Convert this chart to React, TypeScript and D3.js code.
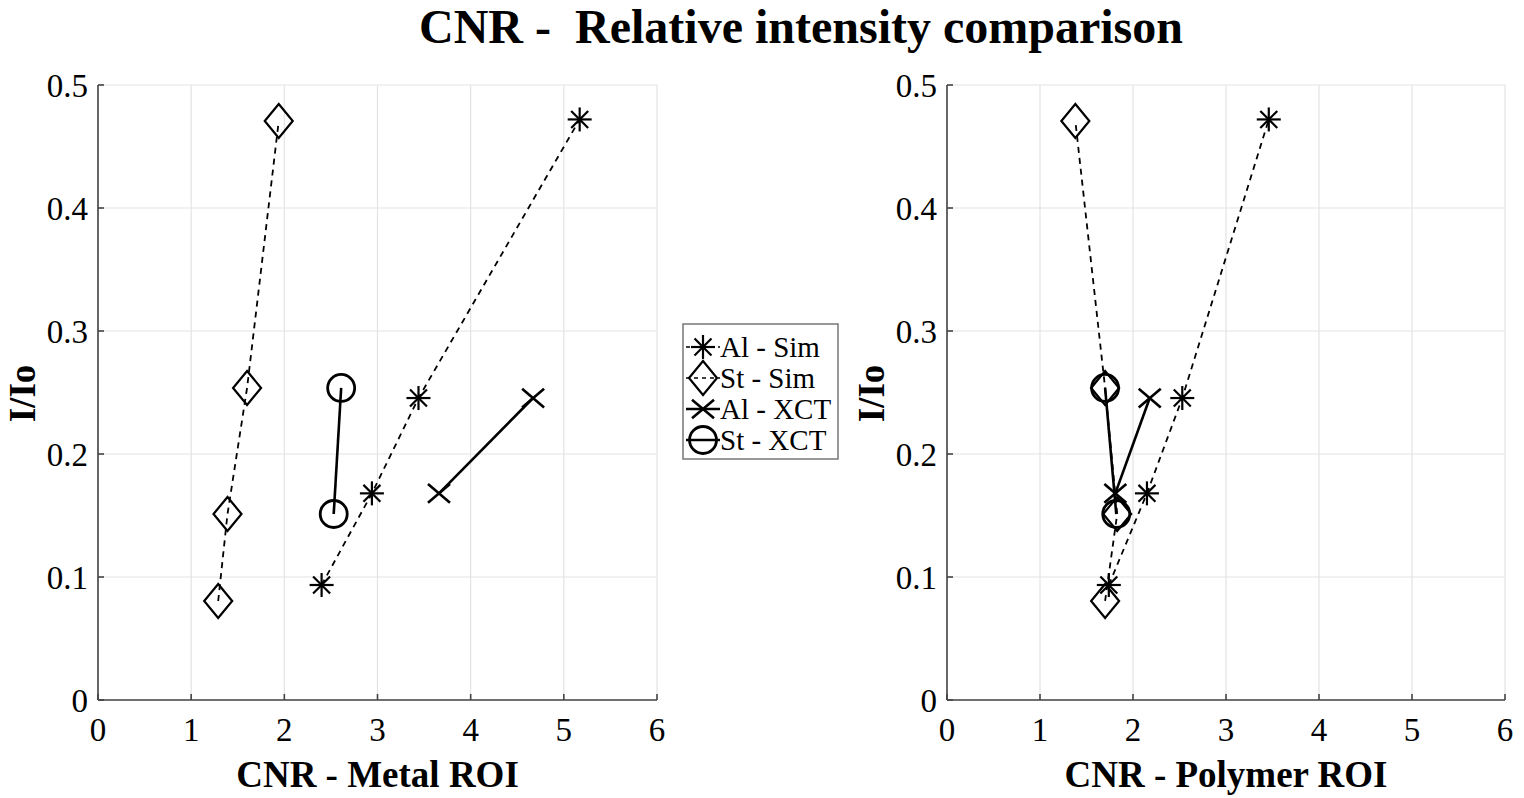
import * as d3 from "d3";

// x axis ticks and y axis ticks
const xTicks = [0, 1, 2, 3, 4, 5, 6];
const yTicks = [0, 0.1, 0.2, 0.3, 0.4, 0.5];

// I/Io for each series
const alSimY = [0.0935, 0.168, 0.2455, 0.472];
const stSimY = [0.0805, 0.1512, 0.2537, 0.4707];
const alXctY = [0.168, 0.2455];
const stXctY = [0.1512, 0.2537];

// CNR - Metal ROI
const metalAlSim = [2.4, 2.94, 3.44, 5.17];
const metalStSim = [1.29, 1.39, 1.6, 1.94];
const metalAlXct = [3.66, 4.67];
const metalStXct = [2.53, 2.61];

// CNR - Polymer ROI
const polyAlSim = [1.74, 2.15, 2.53, 3.46];
const polyStSim = [1.7, 1.83, 1.7, 1.38];
const polyAlXct = [1.81, 2.18];
const polyStXct = [1.82, 1.7];

type Marker = "asterisk" | "diamond" | "cross" | "circle";

const seriesDefs: { name: string; marker: Marker; dashed: boolean }[] = [
  { name: "Al - Sim", marker: "asterisk", dashed: true },
  { name: "St - Sim", marker: "diamond", dashed: true },
  { name: "Al - XCT", marker: "cross", dashed: false },
  { name: "St - XCT", marker: "circle", dashed: false },
];

const FONT = "'Liberation Serif', 'Times New Roman', serif";

function MarkerShape({ type, x, y }: { type: Marker; x: number; y: number }) {
  const s = { stroke: "#000", fill: "none", strokeWidth: 2.2 };
  if (type === "asterisk") {
    const r = 12;
    const d = r * Math.SQRT1_2;
    return (
      <g {...s}>
        <line x1={x - r} y1={y} x2={x + r} y2={y} />
        <line x1={x} y1={y - r} x2={x} y2={y + r} />
        <line x1={x - d} y1={y - d} x2={x + d} y2={y + d} />
        <line x1={x - d} y1={y + d} x2={x + d} y2={y - d} />
      </g>
    );
  }
  if (type === "diamond") {
    return (
      <path
        {...s}
        d={`M${x},${y - 17}L${x + 14},${y}L${x},${y + 17}L${x - 14},${y}Z`}
      />
    );
  }
  if (type === "cross") {
    const r = 11;
    return (
      <g {...s} strokeWidth={2.6}>
        <line x1={x - r} y1={y - r * 0.85} x2={x + r} y2={y + r * 0.85} />
        <line x1={x - r} y1={y + r * 0.85} x2={x + r} y2={y - r * 0.85} />
      </g>
    );
  }
  return <circle {...s} strokeWidth={2.8} cx={x} cy={y} r={13.5} />;
}

function Panel({
  x0,
  x1,
  label,
  data,
}: {
  x0: number;
  x1: number;
  label: string;
  data: number[][];
}) {
  const x = d3.scaleLinear().domain([0, 6]).range([x0, x1]);
  const y = d3.scaleLinear().domain([0, 0.5]).range([700, 85]);
  const ys = [alSimY, stSimY, alXctY, stXctY];
  const line = d3
    .line<[number, number]>()
    .x((d) => x(d[0]))
    .y((d) => y(d[1]));

  return (
    <g>
      {/* grid */}
      {xTicks.map((t) => (
        <line key={"gx" + t} x1={x(t)} x2={x(t)} y1={y(0)} y2={y(0.5)} stroke="#e3e3e3" strokeWidth={1.2} />
      ))}
      {yTicks.map((t) => (
        <line key={"gy" + t} x1={x(0)} x2={x(6)} y1={y(t)} y2={y(t)} stroke="#e3e3e3" strokeWidth={1.2} />
      ))}
      {/* axes */}
      <line x1={x(0)} x2={x(6)} y1={y(0)} y2={y(0)} stroke="#444" strokeWidth={1.6} />
      <line x1={x(0)} x2={x(0)} y1={y(0)} y2={y(0.5)} stroke="#444" strokeWidth={1.6} />
      {xTicks.map((t) => (
        <g key={"tx" + t}>
          <line x1={x(t)} x2={x(t)} y1={y(0)} y2={y(0) - 6} stroke="#444" strokeWidth={1.6} />
          <text x={x(t)} y={741} textAnchor="middle" fontSize={33} fontFamily={FONT}>
            {t}
          </text>
        </g>
      ))}
      {yTicks.map((t) => (
        <g key={"ty" + t}>
          <line x1={x(0)} x2={x(0) + 6} y1={y(t)} y2={y(t)} stroke="#444" strokeWidth={1.6} />
          <text x={x(0) - 10} y={y(t) + 12} textAnchor="end" fontSize={33} fontFamily={FONT}>
            {t === 0 ? "0" : t.toFixed(1)}
          </text>
        </g>
      ))}
      <text
        x={(x(0) + x(6)) / 2}
        y={787}
        textAnchor="middle"
        fontSize={37}
        fontWeight="bold"
        fontFamily={FONT}
      >
        {label}
      </text>
      <text
        transform={`translate(${x(0) - 63},${y(0.25) + 1}) rotate(-90)`}
        textAnchor="middle"
        fontSize={37}
        fontWeight="bold"
        fontFamily={FONT}
      >
        I/Io
      </text>
      {/* series */}
      {seriesDefs.map((s, i) => {
        const pts = data[i].map((v, j) => [v, ys[i][j]] as [number, number]);
        return (
          <g key={s.name}>
            <path
              d={line(pts) ?? ""}
              fill="none"
              stroke="#000"
              strokeWidth={s.dashed ? 1.8 : 2.6}
              strokeDasharray={s.dashed ? "6,5" : undefined}
            />
            {pts.map((p, j) => (
              <MarkerShape key={j} type={s.marker} x={x(p[0])} y={y(p[1])} />
            ))}
          </g>
        );
      })}
    </g>
  );
}

export default function App() {
  return (
    <svg
      width={1524}
      height={798}
      style={{ position: "fixed", left: 0, top: 0, background: "#fff" }}
    >
      <rect width={1524} height={798} fill="#fff" />
      <text
        x={801}
        y={43}
        textAnchor="middle"
        fontSize={48}
        fontWeight="bold"
        fontFamily={FONT}
        style={{ whiteSpace: "pre" }}
      >
        {"CNR -  Relative intensity comparison"}
      </text>
      <Panel x0={98} x1={657} label="CNR - Metal ROI" data={[metalAlSim, metalStSim, metalAlXct, metalStXct]} />
      <Panel x0={947} x1={1505} label="CNR - Polymer ROI" data={[polyAlSim, polyStSim, polyAlXct, polyStXct]} />
      {/* legend */}
      <g>
        <rect x={683} y={324} width={155} height={135} fill="#fff" stroke="#777" strokeWidth={1.5} />
        {seriesDefs.map((s, i) => {
          const cy = 347 + i * 31;
          return (
            <g key={s.name}>
              <line
                x1={686}
                x2={720}
                y1={cy}
                y2={cy}
                stroke="#000"
                strokeWidth={s.dashed ? 1.5 : 2.6}
                strokeDasharray={s.dashed ? "4,4" : undefined}
              />
              <MarkerShape type={s.marker} x={703} y={cy} />
              <text x={720} y={cy + 10} fontSize={29} fontFamily={FONT}>
                {s.name}
              </text>
            </g>
          );
        })}
      </g>
    </svg>
  );
}
